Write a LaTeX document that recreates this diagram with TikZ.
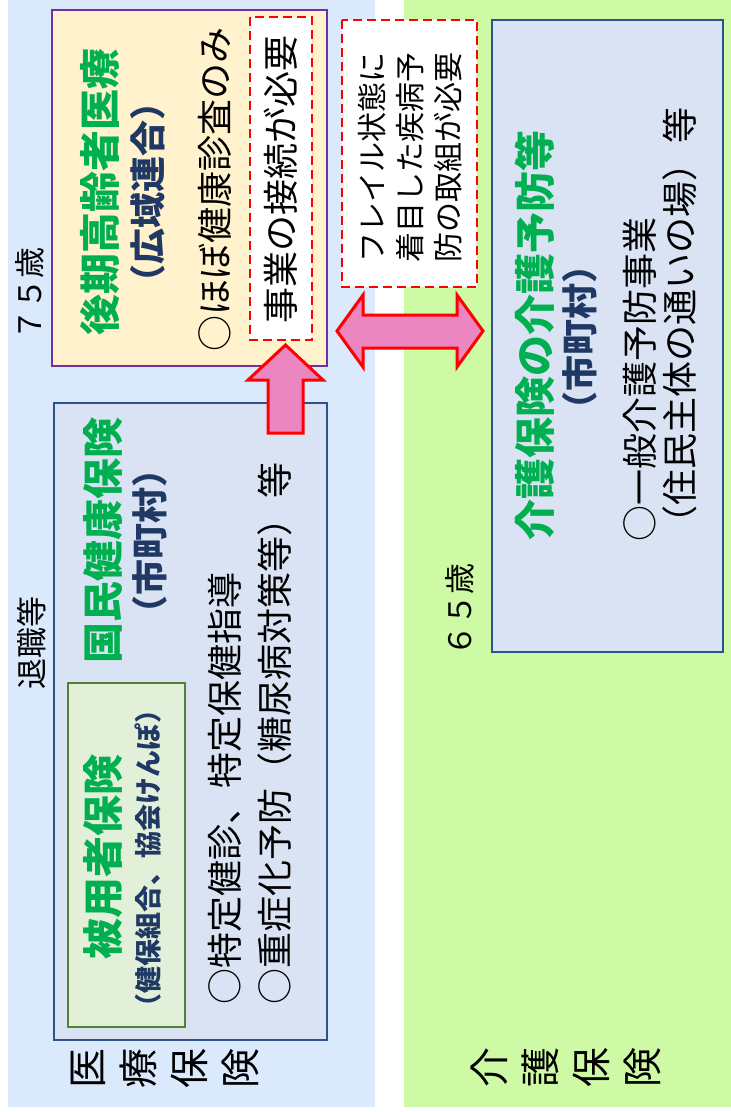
\documentclass[tikz,border=0pt]{standalone}
\usepackage{fontspec}
\usepackage{tikz}
\usetikzlibrary{calc}
\newfontfamily\jp{Noto Sans CJK JP}

\definecolor{iryoblue}{RGB}{218,233,252}
\definecolor{kaigogreen}{RGB}{206,250,166}
\definecolor{boxblue}{RGB}{218,227,243}
\definecolor{boxline}{RGB}{47,82,143}
\definecolor{cream}{RGB}{255,242,204}
\definecolor{purpleline}{RGB}{112,48,160}
\definecolor{paleleaf}{RGB}{226,240,217}
\definecolor{leafline}{RGB}{84,130,53}
\definecolor{titlegreen}{RGB}{0,176,80}
\definecolor{subblue}{RGB}{31,56,100}
\definecolor{arrowpink}{RGB}{236,134,192}

\begin{document}
\begin{tikzpicture}[x=1pt, y=-1pt,
    ttl/.style={rotate=90, inner sep=0pt, text=titlegreen,
      font=\jp\bfseries\fontsize{41}{41}\selectfont},
    subttl/.style={rotate=90, inner sep=0pt, text=subblue,
      font=\jp\bfseries\fontsize{36}{36}\selectfont},
    body/.style={rotate=90, inner sep=0pt, anchor=west,
      font=\jp\fontsize{36}{36}\selectfont},
    lbl/.style={rotate=90, inner sep=0pt,
      font=\jp\fontsize{31}{31}\selectfont},
    redbox/.style={draw=red, fill=white, dash pattern=on 9pt off 5pt, line width=2.8pt},
    fatarrow/.style={draw=red, fill=arrowpink, line width=3pt, line join=miter}]
    %% Background
    \useasboundingbox (0,0) rectangle (731,1112);
    \fill[white] (0,0) rectangle (731,1112);
    \fill[iryoblue] (8,0) rectangle (375,1107);
    \fill[kaigogreen] (404,0) rectangle (731,1107);

    %% Koki koreisha box
    \draw[line width=2pt, purpleline, fill=cream] (52,10) rectangle (327,366);
    \draw[redbox] (250,17) rectangle (312,340);
    \node[ttl] (koki) at (100,192) {後期高齢者医療};
    \node[subttl] (kokisub) at (148,192) {（広域連合）};
    \node[body] (kokibody) at (215,352) {○ほぼ健康診査のみ};
    \node[rotate=90, inner sep=0pt, font=\jp\fontsize{36}{36}\selectfont]
      (setsuzoku) at (281,179) {事業の接続が必要};

    %% Kokuho box
    \draw[line width=2pt, boxline, fill=boxblue] (54,403) rectangle (327,1040);
    \draw[line width=2pt, leafline, fill=paleleaf] (68,683) rectangle (185,1027);
    \node[ttl] (kokuho) at (103,540) {国民健康保険};
    \node[subttl] (kokuhosub) at (150,541) {（市町村）};
    \node[ttl] (hiyo) at (103,857) {被用者保険};
    \node[subttl, font=\jp\bfseries\fontsize{27}{27}\selectfont]
      (hiyosub) at (148,858) {（健保組合、協会けんぽ）};
    \node[body] (tokutei) at (225,1005) {○特定健診、特定保健指導};
    \node[body] (jusho) at (275,1005) {○重症化予防（糖尿病対策等）\hspace{2pt}等};

    %% Arrows
    \draw[fatarrow] (268,433) -- (268,380) -- (248,380) -- (285.5,345)
      -- (323,380) -- (303,380) -- (303,433) -- cycle;
    \draw[fatarrow] (337,331) -- (363,295) -- (363,315) -- (457,315)
      -- (457,295) -- (483,331) -- (457,367) -- (457,348)
      -- (363,348) -- (363,367) -- cycle;

    %% Frail box
    \draw[redbox] (342,20) rectangle (477,287);
    \node[rotate=90, inner sep=0pt, align=left,
      font=\jp\fontsize{30}{38}\selectfont] (frail) at (410,157)
      {フレイル状態に\\着目した疾病予\\防の取組が必要};

    %% Kaigo box
    \draw[line width=2pt, boxline, fill=boxblue] (492,20) rectangle (723,652);
    \node[ttl] (kaigo) at (535,335) {介護保険の介護予防等};
    \node[subttl] (kaigosub) at (580,337) {（市町村）};
    \node[body] (ippan) at (640,542) {○一般介護予防事業};
    \node[body] (kayoi) at (680,542) {（住民主体の通いの場）\hspace{2pt}等};

    %% Labels
    \node[lbl] (age75) at (30,294) {７５歳};
    \node[lbl] (taishoku) at (32,643) {退職等};
    \node[lbl] (age65) at (460,610) {６５歳};
    \node[rotate=90, inner sep=0pt, align=center,
      font=\jp\fontsize{40}{51}\selectfont] (iryo) at (165,1068)
      {医\\療\\保\\険};
    \node[rotate=90, inner sep=0pt, align=center,
      font=\jp\fontsize{40}{51}\selectfont] (kaigohoken) at (566,1067)
      {介\\護\\保\\険};
\end{tikzpicture}
\end{document}
